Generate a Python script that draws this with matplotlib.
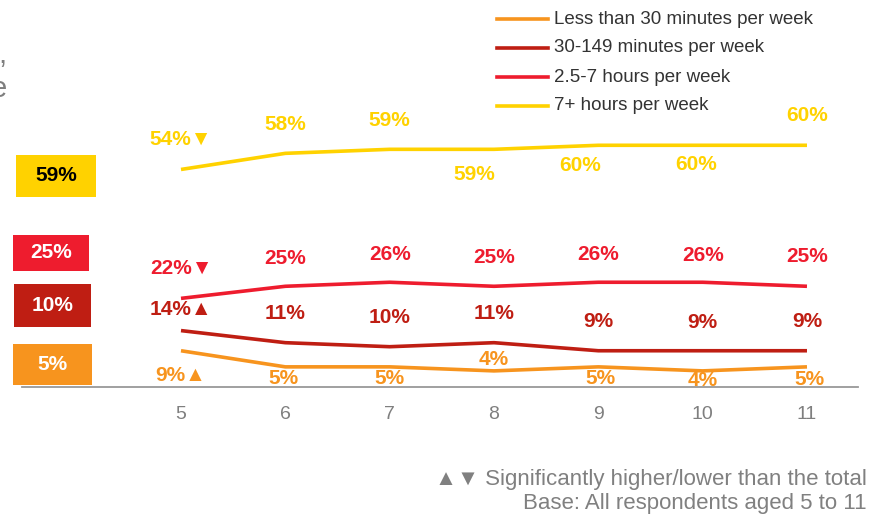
# -*- coding: utf-8 -*-
import matplotlib.pyplot as plt
from matplotlib.lines import Line2D
from matplotlib.patches import Rectangle

plt.rcParams['font.family'] = ['Liberation Sans', 'DejaVu Sans']

# dati
ages = [5, 6, 7, 8, 9, 10, 11]
less_30 = [9, 5, 5, 4, 5, 4, 5]
min_30_149 = [14, 11, 10, 11, 9, 9, 9]
hours_2_7 = [22, 25, 26, 25, 26, 26, 25]
hours_7 = [54, 58, 59, 59, 60, 60, 60]
sig_less_30 = ['▲', '', '', '', '', '', '']
sig_30_149 = ['▲', '', '', '', '', '', '']
sig_2_7 = ['▼', '', '', '', '', '', '']
sig_7 = ['▼', '', '', '', '', '', '']
names = ['Less than 30 minutes per week', '30-149 minutes per week',
         '2.5-7 hours per week', '7+ hours per week']
totals = [59, 25, 10, 5]

c_orange = '#F7941E'
c_dark = '#BF1E13'
c_red = '#EE1C2E'
c_yellow = '#FFD200'

W, H = 878, 516
def fx(x): return x / W
def fy(y): return 1 - y / H

fig = plt.figure(figsize=(W / 100, H / 100), dpi=100)
ax = fig.add_axes([fx(22), fy(387), (858 - 22) / W, (387 - 105) / H])
ax.set_xlim(3.476, 11.489)
ax.set_ylim(0, 70)
for s in ['top', 'right', 'left']:
    ax.spines[s].set_visible(False)
ax.spines['bottom'].set_color('#999999')
ax.spines['bottom'].set_linewidth(1.3)
ax.set_yticks([])
ax.set_xticks(ages)
ax.tick_params(axis='x', length=0, pad=14, labelsize=14, labelcolor='#7f7f7f')

series = [(less_30, sig_less_30, c_orange), (min_30_149, sig_30_149, c_dark),
          (hours_2_7, sig_2_7, c_red), (hours_7, sig_7, c_yellow)]

# label offsets in pixel (dx, dy)
offs = [
    [(0, -25), (-2, -12), (0, -12), (0, 11), (2, -12), (0, -10), (2, -13)],
    [(0, 21), (0, 29), (0, 29), (0, 29), (0, 29), (0, 28), (0, 29)],
    [(0, 30), (0, 28), (0, 28), (0, 29), (0, 28), (0, 27), (0, 30)],
    [(0, 30), (0, 29), (0, 29), (-20, -25), (-18, -20), (-7, -19), (0, 30)],
]

for (vals, sig, col), off in zip(series, offs):
    ax.plot(ages, vals, color=col, lw=2.6, solid_capstyle='butt')
    for x, v, s, o in zip(ages, vals, sig, off):
        ax.annotate(f'{v}%{s}', (x, v), xytext=o, textcoords='offset pixels',
                    ha='center', va='center', fontsize=15, fontweight='bold',
                    color=col)

# legenda
leg_cols = [c_orange, c_dark, c_red, c_yellow]
for i, (n, col) in enumerate(zip(names, leg_cols)):
    y = 19 + 29 * i
    fig.add_artist(Line2D([fx(497), fx(548)], [fy(y), fy(y)], color=col, lw=2.6,
                          transform=fig.transFigure))
    fig.text(fx(554), fy(y), n, ha='left', va='center', fontsize=13.5,
             color='#333333')

# riquadri totale
box_cols = [c_yellow, c_red, c_dark, c_orange]
box_txt = ['black', 'white', 'white', 'white']
boxes = [(16, 155, 96, 197), (13, 235, 89, 271), (14, 284, 91, 327), (13, 344, 92, 385)]
for t, col, tc, (x0, y0, x1, y1) in zip(totals, box_cols, box_txt, boxes):
    fig.add_artist(Rectangle((fx(x0), fy(y1)), (x1 - x0) / W, (y1 - y0) / H,
                             facecolor=col, edgecolor='none', transform=fig.transFigure))
    fig.text(fx((x0 + x1) / 2), fy((y0 + y1) / 2), f'{t}%', ha='center', va='center',
             fontsize=15, fontweight='bold', color=tc)

# testo tagliato a sinistra
fig.text(fx(6), fy(63), ',', ha='right', va='baseline', fontsize=21, color='#7f7f7f')
fig.text(fx(7), fy(97), 'e', ha='right', va='baseline', fontsize=21, color='#7f7f7f')

# note
fig.text(fx(867), fy(480), '▲▼ Significantly higher/lower than the total',
         ha='right', va='center', fontsize=16, color='#808080')
fig.text(fx(867), fy(504), 'Base: All respondents aged 5 to 11',
         ha='right', va='center', fontsize=16, color='#808080')

fig.savefig('out.png', dpi=100)
